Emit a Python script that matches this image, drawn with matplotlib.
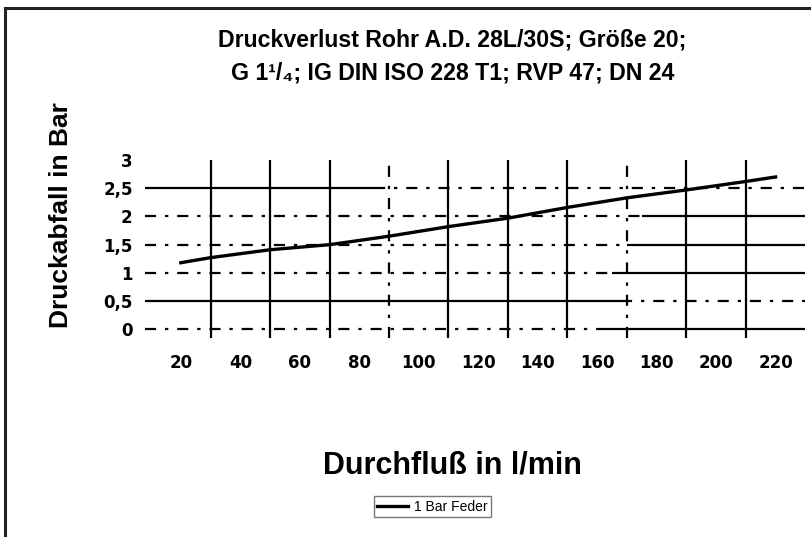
import matplotlib
matplotlib.use("Agg")
import matplotlib.pyplot as plt
from matplotlib.patches import Rectangle

# data
flow = [20, 30, 50, 70, 90, 110, 130, 150, 170, 190, 210, 220]
drop = [1.18, 1.27, 1.41, 1.50, 1.65, 1.82, 1.97, 2.16, 2.33, 2.47, 2.62, 2.70]

x_ticks = [20, 40, 60, 80, 100, 120, 140, 160, 180, 200, 220]
y_ticks = [0, 0.5, 1, 1.5, 2, 2.5, 3]
y_ticklabels = ["0", "0,5", "1", "1,5", "2", "2,5", "3"]

v_grid = [30, 50, 70, 110, 130, 150, 190, 210]
v_grid_dotted = [90, 170]
# horizontal grid: value, switch point, style left of it, style right of it
h_grid = [
    (0.0, 160, "dot", "solid"),
    (0.5, 168, "solid", "dot"),
    (1.0, 165, "dot", "solid"),
    (1.5, 170, "dot", "solid"),
    (2.0, 175, "dot", "solid"),
    (2.5, 85, "solid", "dot"),
]

title = ("Druckverlust Rohr A.D. 28L/30S; Größe 20;\n"
         "G 1\u00b9/\u2084; IG DIN ISO 228 T1; RVP 47; DN 24")
FONT = ["Liberation Sans", "DejaVu Sans"]
DOT = (0, (5, 4, 1.5, 4))

fig = plt.figure(figsize=(8.11, 5.37), dpi=100)
ax = fig.add_axes([0.179, 0.371, 0.814, 0.331])
xmin, xmax = 8, 230
ax.set_xlim(xmin, xmax)
ax.set_ylim(-0.15, 3.0)

for x in v_grid:
    ax.axvline(x, color="black", lw=1.6)
for x in v_grid_dotted:
    ax.axvline(x, color="black", lw=1.6, ls=DOT)
for y, sw, left, right in h_grid:
    for (a, b), st in (((xmin, sw), left), ((sw, xmax), right)):
        ax.hlines(y, a, b, color="black", lw=1.6,
                  linestyles="solid" if st == "solid" else [DOT])

ax.plot(flow, drop, color="black", lw=2.4, label="1 Bar Feder", zorder=5)

for s in ax.spines.values():
    s.set_visible(False)
ax.set_xticks(x_ticks)
ax.set_xticklabels([str(v) for v in x_ticks])
ax.set_yticks(y_ticks)
ax.set_yticklabels(y_ticklabels)
ax.tick_params(length=0)
ax.tick_params(axis="x", pad=12)
ax.tick_params(axis="y", pad=9)
for lab in ax.get_xticklabels() + ax.get_yticklabels():
    lab.set_family("DejaVu Sans")
    lab.set_fontsize(12)
    lab.set_fontweight("bold")

fig.text(0.558, 0.895, title, ha="center", va="center", family=FONT,
         fontsize=16.7, fontweight="bold", linespacing=1.52)
fig.text(0.075, 0.6, "Druckabfall in Bar", rotation=90, ha="center",
         va="center", family=FONT, fontsize=19, fontweight="bold")
fig.text(0.558, 0.134, "Durchfluß in l/min", ha="center", va="center",
         family=FONT, fontsize=22, fontweight="bold")

leg = fig.legend(loc="center", bbox_to_anchor=(0.533, 0.056), frameon=True,
                 fancybox=False, handlelength=2.2, handletextpad=0.4,
                 borderpad=0.25, prop={"family": FONT, "size": 10})
leg.get_frame().set_edgecolor("#555555")
leg.get_frame().set_linewidth(1.0)

fig.patches.append(Rectangle((0.006, -0.1), 1.2, 1.085, transform=fig.transFigure,
                             fill=False, edgecolor="#222222", lw=2.2))

fig.savefig("out.png", dpi=100)
